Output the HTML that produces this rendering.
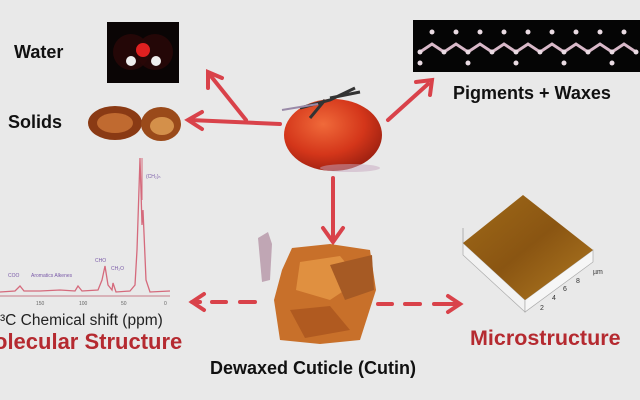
<!DOCTYPE html>
<html><head><meta charset="utf-8"><style>
html,body{margin:0;padding:0;background:#e9e9e9;}
svg{display:block}
text{font-family:"Liberation Sans",sans-serif;}
</style></head><body>
<svg width="640" height="400" viewBox="0 0 640 400">
<defs>
<radialGradient id="tom" cx="0.4" cy="0.35" r="0.7"><stop offset="0" stop-color="#f06a3a"/><stop offset="0.6" stop-color="#d4361a"/><stop offset="1" stop-color="#9a1f10"/></radialGradient>
<linearGradient id="afm" x1="0" y1="0" x2="1" y2="1"><stop offset="0" stop-color="#a06a18"/><stop offset="0.5" stop-color="#8a5512"/><stop offset="1" stop-color="#b07a22"/></linearGradient>
</defs>
<rect width="640" height="400" fill="#e9e9e9"/>
<text x="14" y="58" font-size="18" font-weight="bold" fill="#111">Water</text>
<rect x="107" y="22" width="72" height="61" fill="#0a0505"/>
<circle cx="131" cy="52" r="18" fill="#2a0808" opacity="0.8"/><circle cx="155" cy="52" r="18" fill="#2a0808" opacity="0.8"/>
<circle cx="143" cy="50" r="7" fill="#e02020"/>
<circle cx="131" cy="61" r="5" fill="#eee"/><circle cx="156" cy="61" r="5" fill="#eee"/>
<text x="8" y="128" font-size="18" font-weight="bold" fill="#111">Solids</text>
<ellipse cx="115" cy="123" rx="27" ry="17" fill="#8a3a14"/>
<ellipse cx="115" cy="123" rx="18" ry="10" fill="#c06a30"/>
<ellipse cx="161" cy="124" rx="20" ry="17" fill="#9a4a1a"/>
<ellipse cx="162" cy="126" rx="12" ry="9" fill="#d4904a"/>
<rect x="413" y="20" width="227" height="52" fill="#050505"/>
<polyline points="420,52 432,44 444,52 456,44 468,52 480,44 492,52 504,44 516,52 528,44 540,52 552,44 564,52 576,44 588,52 600,44 612,52 624,44 636,52" fill="none" stroke="#d8b8c8" stroke-width="3"/>
<g fill="#eadbe3">
<circle cx="420" cy="52" r="2.5"/><circle cx="444" cy="52" r="2.5"/><circle cx="468" cy="52" r="2.5"/><circle cx="492" cy="52" r="2.5"/><circle cx="516" cy="52" r="2.5"/><circle cx="540" cy="52" r="2.5"/><circle cx="564" cy="52" r="2.5"/><circle cx="588" cy="52" r="2.5"/><circle cx="612" cy="52" r="2.5"/><circle cx="636" cy="52" r="2.5"/>
<circle cx="432" cy="32" r="2.5"/><circle cx="456" cy="32" r="2.5"/><circle cx="480" cy="32" r="2.5"/><circle cx="504" cy="32" r="2.5"/><circle cx="528" cy="32" r="2.5"/><circle cx="552" cy="32" r="2.5"/><circle cx="576" cy="32" r="2.5"/><circle cx="600" cy="32" r="2.5"/><circle cx="624" cy="32" r="2.5"/>
<circle cx="420" cy="63" r="2.5"/><circle cx="468" cy="63" r="2.5"/><circle cx="516" cy="63" r="2.5"/><circle cx="564" cy="63" r="2.5"/><circle cx="612" cy="63" r="2.5"/>
</g>
<text x="453" y="99" font-size="18" font-weight="bold" fill="#111">Pigments + Waxes</text>
<ellipse cx="333" cy="135" rx="49" ry="36" fill="url(#tom)"/>
<ellipse cx="350" cy="168" rx="30" ry="4" fill="#c8a8c0" opacity="0.5"/>
<path d="M300,108 L330,100 L355,88 M325,100 L310,118 M330,98 L360,92" stroke="#333" stroke-width="3" fill="none"/>
<path d="M282,110 L318,104" stroke="#9a8aa8" stroke-width="2"/>
<g stroke="#d9424a" stroke-width="4" fill="none" stroke-linecap="round">
<line x1="280" y1="124" x2="190" y2="120"/>
<polyline points="202,112 188,120 202,129"/>
<line x1="246" y1="120" x2="210" y2="75"/>
<polyline points="208,88 208,72 222,78"/>
<line x1="388" y1="120" x2="428" y2="84"/>
<polyline points="416,82 432,80 430,95"/>
<line x1="333" y1="178" x2="333" y2="240"/>
<polyline points="323,228 333,242 343,228"/>
<line x1="255" y1="302" x2="240" y2="302"/><line x1="226" y1="302" x2="212" y2="302"/><line x1="200" y1="302" x2="192" y2="302"/>
<polyline points="204,294 192,302 204,310"/>
<line x1="378" y1="304" x2="392" y2="304"/><line x1="405" y1="304" x2="420" y2="304"/><line x1="434" y1="304" x2="458" y2="304"/>
<polyline points="448,296 460,304 448,312"/>
</g>
<polygon points="258,238 268,232 272,244 270,280 262,282" fill="#c0a6b4"/>
<polygon points="292,248 330,244 370,250 376,290 360,340 320,344 280,340 274,300 282,270" fill="#c8702a"/>
<polygon points="300,262 340,256 360,280 330,300 296,290" fill="#e09040"/>
<polygon points="290,310 330,306 350,330 305,338" fill="#b05a20"/>
<polygon points="330,265 372,255 374,290 345,300" fill="#a65a24"/>
<text x="313" y="374" font-size="18" font-weight="bold" fill="#111" text-anchor="middle">Dewaxed Cuticle (Cutin)</text>
<polygon points="463,243 525,300 525,312 463,255" fill="#f2f2f2" stroke="#aaa" stroke-width="0.7"/>
<polygon points="525,300 593,250 593,262 525,312" fill="#f6f6f6" stroke="#aaa" stroke-width="0.7"/>
<line x1="463" y1="243" x2="463" y2="228" stroke="#999" stroke-width="0.7"/>
<polygon points="523,195 593,250 525,300 463,243" fill="url(#afm)"/>
<text x="593" y="274" font-size="7" fill="#333">µm</text>
<text x="540" y="310" font-size="7" fill="#333">2</text><text x="552" y="300" font-size="7" fill="#333">4</text><text x="563" y="291" font-size="7" fill="#333">6</text><text x="576" y="283" font-size="7" fill="#333">8</text>
<text x="470" y="345" font-size="21.5" font-weight="bold" fill="#b52a30">Microstructure</text>
<polyline points="0,292 15,291 20,286 24,291 40,291 60,290 75,291 78,286 82,291 98,290 102,280 105,266 108,285 112,290 113,283 116,292 130,291 135,285 137,250 140,158 142,225 143,210 146,280 150,292 170,291" fill="none" stroke="#d56a7c" stroke-width="1.3"/>
<line x1="0" y1="296" x2="170" y2="296" stroke="#c87a88" stroke-width="1"/>
<line x1="142" y1="158" x2="142" y2="200" stroke="#d56a7c" stroke-width="1"/>
<g font-size="5" fill="#7a5aa8"><text x="8" y="277">COO</text><text x="31" y="277">Aromatics Alkenes</text><text x="95" y="262">CHO</text><text x="111" y="270">CH₂O</text><text x="146" y="178">(CH₂)ₙ</text></g>
<g font-size="5" fill="#666"><text x="36" y="305">150</text><text x="79" y="305">100</text><text x="121" y="305">50</text><text x="164" y="305">0</text></g>
<text x="0" y="325" font-size="15.5" fill="#222">³C Chemical shift (ppm)</text>
<text x="-6" y="349" font-size="22" font-weight="bold" fill="#b52a30">olecular Structure</text>
</svg>
</body></html>
